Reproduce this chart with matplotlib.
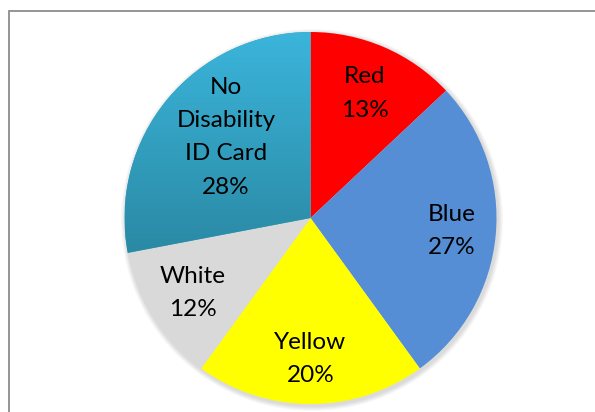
import numpy as np
import matplotlib
matplotlib.use("Agg")
import matplotlib.pyplot as plt
from matplotlib.patches import Rectangle, Circle
from matplotlib.colors import LinearSegmentedColormap

categories = ["Red", "Blue", "Yellow", "White", "No\nDisability\nID Card"]
values = [13, 27, 20, 12, 28]
colors = ["#FF0000", "#558ED5", "#FFFF00", "#D9D9D9", "#31A2C4"]

W, H = 595, 412
fig = plt.figure(figsize=(W / 100, H / 100), dpi=100)
ax = fig.add_axes([0, 0, 1, 1])
ax.set_xlim(0, W)
ax.set_ylim(0, H)
ax.set_aspect("equal")
ax.axis("off")

# chart frame (extends beyond the right and bottom of the image)
fig.patches.append(Rectangle((9 / W, -0.1), 1.2, 1 - 11 / H + 0.1,
                             transform=fig.transFigure, fill=False,
                             edgecolor="#8C8C8C", linewidth=1.3, zorder=0))

cx, cy, R = 310.5, H - 218, 186

# soft shadow
for i in range(6):
    ax.add_patch(Circle((cx + 1.5, cy - 2.0), R + 1 + i * 0.8, color="#000000",
                        alpha=0.025, linewidth=0, zorder=1))

wedges, _ = ax.pie(values, colors=colors, startangle=90, counterclock=False,
                   center=(cx, cy), radius=R, frame=True,
                   wedgeprops=dict(linewidth=0, zorder=2))
ax.set_xlim(0, W)
ax.set_ylim(0, H)
ax.axis("off")

# gradient fill for the teal wedge
cmap = LinearSegmentedColormap.from_list("teal", ["#2A89A4", "#3BB5DB"])
grad = np.linspace(0, 1, 256).reshape(-1, 1)
im = ax.imshow(grad, cmap=cmap, origin="lower", aspect="auto",
               extent=(cx - R, cx + R, cy - R * 0.2, cy + R), zorder=3)
im.set_clip_path(wedges[4])

total = sum(values)
dist = [0.73, 0.76, 0.76, 0.75, 0.68]
for w, cat, v, d in zip(wedges, categories, values, dist):
    ang = np.deg2rad((w.theta1 + w.theta2) / 2)
    x = cx + d * R * np.cos(ang)
    y = cy + d * R * np.sin(ang)
    if cat.startswith("No"):
        x += 13
    ax.text(x, y, f"{cat}\n{round(100 * v / total)}%", ha="center", va="center",
            fontsize=17.5, family=["Lato", "DejaVu Sans"], color="black",
            linespacing=1.72, zorder=5)

fig.savefig("out.png", dpi=100)
